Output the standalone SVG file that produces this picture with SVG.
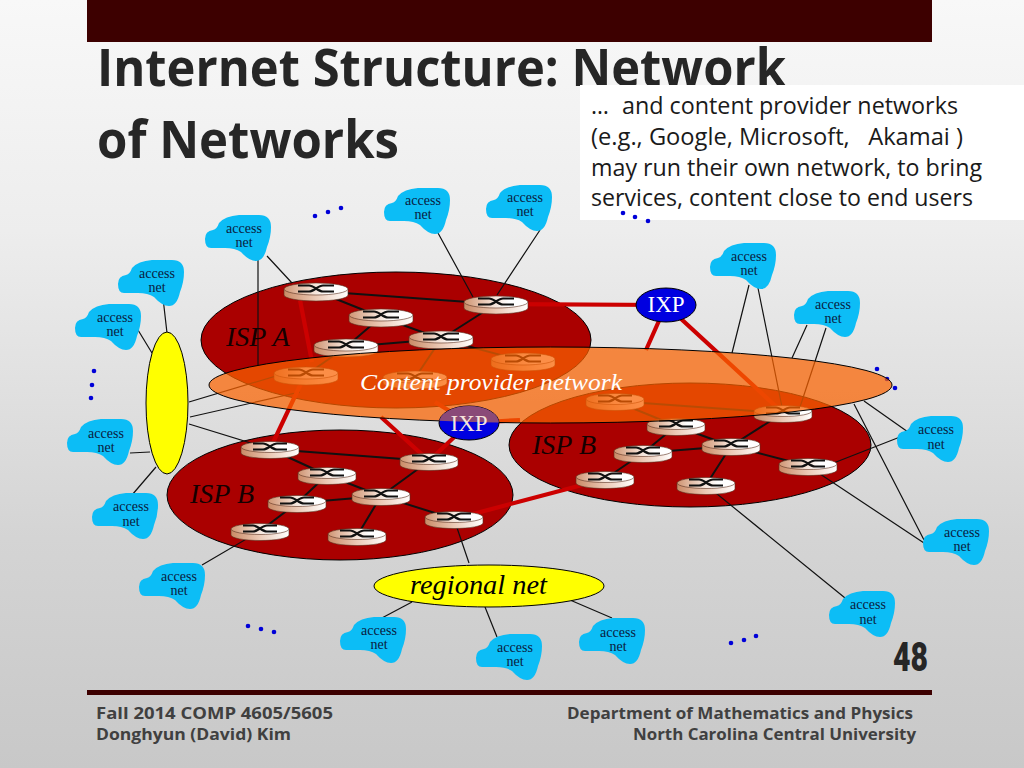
<svg xmlns="http://www.w3.org/2000/svg" xmlns:xlink="http://www.w3.org/1999/xlink" width="1024" height="768" viewBox="0 0 1024 768">
<style>
.t{font-family:"Open Sans","Liberation Sans",sans-serif}
.title{font-size:52px;font-weight:700;fill:#262626}
.body{font-size:23px;fill:#1a1a1a}
.foot{font-size:16.5px;font-weight:700;fill:#404040}
.s{font-family:"Liberation Serif","Times New Roman",serif}
.an{font-size:14px;fill:#0a2040;text-anchor:middle}
.isp{font-size:28px;font-style:italic;fill:#140000}
.ixp{font-size:23px;fill:#fff;text-anchor:middle}
.k{stroke:#111;stroke-width:1.2;fill:none}
.kb{stroke:#111;stroke-width:2;fill:none}
.r{stroke:#cc0000;stroke-width:4.2;fill:none}
.isps{fill:#aa0000;stroke:#000;stroke-width:1}
.dot{fill:#0000d8}
</style>
<defs>
<linearGradient id="bg" x1="0" y1="0" x2="0" y2="1">
<stop offset="0" stop-color="#f8f8f8"/><stop offset=".3" stop-color="#ededed"/><stop offset=".7" stop-color="#d4d4d4"/><stop offset="1" stop-color="#c8c8c8"/>
</linearGradient>
<linearGradient id="rs" x1="0" y1="0" x2="1" y2="0">
<stop offset="0" stop-color="#c98a66"/><stop offset=".5" stop-color="#eccab6"/><stop offset="1" stop-color="#fff"/>
</linearGradient>
<linearGradient id="rt" x1="0" y1="0" x2="1" y2="0">
<stop offset="0" stop-color="#cf9472"/><stop offset=".45" stop-color="#f4e0d4"/><stop offset=".7" stop-color="#fff"/>
</linearGradient>
<clipPath id="cp"><ellipse cx="550.5" cy="385" rx="341.5" ry="38"/></clipPath>
<symbol id="cloud" overflow="visible">
<path fill="#0cbdf6" d="M0,24 Q0,16 8,15 Q12,14 14,8 Q20,1 34,0 L54,0 Q66,0 66,12 Q66,22 62,32 Q59,46 51,46 Q44,46 36,37 Q30,33 20,33 L6,33 Q0,33 0,24Z"/>
</symbol>
<symbol id="router" overflow="visible">
<path fill="url(#rs)" stroke="#5a3020" stroke-width=".6" d="M-32,-3 V3 A32,6 0 0 0 32,3 V-3Z"/>
<ellipse cx="0" cy="-3" rx="32" ry="6" fill="url(#rt)" stroke="#5a3020" stroke-width=".6"/>
<path fill="none" stroke="#111" stroke-width="2.2" d="M-18,-6.5 H-7 C-2,-6.5 2,-0.5 7,-0.5 H18 M-18,-0.5 H-7 C-2,-0.5 2,-6.5 7,-6.5 H18"/>
</symbol>
<symbol id="routerb" overflow="visible">
<path fill="url(#rs)" stroke="#5a3020" stroke-width=".6" d="M-29,-3 V3 A29,5.5 0 0 0 29,3 V-3Z"/>
<ellipse cx="0" cy="-3" rx="29" ry="5.5" fill="url(#rt)" stroke="#5a3020" stroke-width=".6"/>
<path fill="none" stroke="#111" stroke-width="2.2" d="M-17,-6.5 H-7 C-2,-6.5 2,-0.5 7,-0.5 H17 M-17,-0.5 H-7 C-2,-0.5 2,-6.5 7,-6.5 H17"/>
</symbol>
</defs>

<rect id="background" width="1024" height="768" fill="url(#bg)"/>
<rect id="header-bar" x="87" width="845" height="42" fill="#3d0000"/>
<g id="title">
<text class="t title" x="97" y="86" textLength="689" lengthAdjust="spacingAndGlyphs">Internet Structure: Network</text>
<text class="t title" x="97" y="158" textLength="302" lengthAdjust="spacingAndGlyphs">of Networks</text>
</g>
<g id="callout">
<rect x="580" y="85" width="444" height="135" fill="#fff"/>
<text class="t body" x="591" y="114">…</text>
<text class="t body" x="622" y="114" textLength="336" lengthAdjust="spacingAndGlyphs">and content provider networks</text>
<text class="t body" x="591" y="145" textLength="372" lengthAdjust="spacingAndGlyphs" xml:space="preserve">(e.g., Google, Microsoft,   Akamai )</text>
<text class="t body" x="591" y="176" textLength="391" lengthAdjust="spacingAndGlyphs">may run their own network, to bring</text>
<text class="t body" x="591" y="206" textLength="382" lengthAdjust="spacingAndGlyphs">services, content close to end users</text>
</g>

<g id="isp-a"><ellipse class="isps" cx="396" cy="340" rx="195" ry="68"/></g>
<g id="isp-b-left"><ellipse class="isps" cx="340" cy="495" rx="173" ry="65"/></g>
<g id="isp-b-right"><ellipse class="isps" cx="690" cy="445" rx="181" ry="62"/></g>

<g id="connectors">
<g class="k">
<path d="M267,256L292,283M258,260V365M163,298L167,333M138,330L152,353"/>
<path d="M189,402L306,367M190,417L300,392M189,424L270,449M130,453L150,452M156,467L132,495"/>
<path d="M438,233L473,297M540,230L497,295"/>
<path d="M749,285L732,353M758,288L782,407M807,325L792,358M826,328L800,407"/>
<path d="M908,432L864,401M900,437L808,473M924,540L854,404M924,543L808,466M850,602L706,485"/>
<path d="M469,563L454,519M412,602L380,619M485,607L497,637M570,600L612,618M202,565L260,531"/>
</g>
<g class="kb">
<path d="M316,291L496,304M316,291L381,317M381,317L441,339M346,347L381,317M346,347L441,339M441,339L496,304M441,339L523,361M441,339L415,378M346,347L306,375"/>
<path d="M270,449L429,461M270,449L327,475M327,475L381,496M327,475L297,503M297,503L381,496M297,503L260,531M381,496L429,461M381,496L357,536M381,496L454,519"/>
<path d="M615,401L783,413M615,401L676,426M676,426L643,453M676,426L731,446M643,453L731,446M643,453L605,479M731,446L783,413M731,446L706,485M731,446L808,466"/>
</g>
<g class="r">
<path d="M496,304L666,305M666,305L646,350M666,305L783,413M300,300L312,362M305,375L270,449M381,417L429,461M469,423L429,461M469,423L435,402M469,423L520,420M454,519L605,479"/>
</g>
</g>

<g id="isp-labels">
<text class="s isp" x="226" y="346">ISP A</text>
<text class="s isp" x="190" y="503">ISP B</text>
<text class="s isp" x="532" y="454">ISP B</text>
</g>

<g id="routers">
<use xlink:href="#router" href="#router" x="316" y="292"/>
<use xlink:href="#router" href="#router" x="381" y="318"/>
<use xlink:href="#router" href="#router" x="346" y="348"/>
<use xlink:href="#router" href="#router" x="441" y="340"/>
<use xlink:href="#router" href="#router" x="496" y="305"/>
<use xlink:href="#router" href="#router" x="523" y="362"/>
<use xlink:href="#router" href="#router" x="306" y="376"/>
<use xlink:href="#router" href="#router" x="415" y="380"/>
<use xlink:href="#routerb" href="#routerb" x="270" y="450"/>
<use xlink:href="#routerb" href="#routerb" x="327" y="476"/>
<use xlink:href="#routerb" href="#routerb" x="429" y="462"/>
<use xlink:href="#routerb" href="#routerb" x="297" y="504"/>
<use xlink:href="#routerb" href="#routerb" x="381" y="497"/>
<use xlink:href="#routerb" href="#routerb" x="260" y="532"/>
<use xlink:href="#routerb" href="#routerb" x="357" y="537"/>
<use xlink:href="#routerb" href="#routerb" x="454" y="520"/>
<use xlink:href="#routerb" href="#routerb" x="615" y="402"/>
<use xlink:href="#routerb" href="#routerb" x="676" y="427"/>
<use xlink:href="#routerb" href="#routerb" x="643" y="454"/>
<use xlink:href="#routerb" href="#routerb" x="731" y="447"/>
<use xlink:href="#routerb" href="#routerb" x="605" y="480"/>
<use xlink:href="#routerb" href="#routerb" x="706" y="486"/>
<use xlink:href="#routerb" href="#routerb" x="808" y="467"/>
<use xlink:href="#routerb" href="#routerb" x="783" y="414"/>
</g>

<g id="regional-left"><ellipse cx="167" cy="403" rx="21" ry="71" fill="#ff0" stroke="#000"/></g>
<g id="regional-net">
<ellipse cx="489" cy="586" rx="115" ry="21" fill="#ff0" stroke="#000"/>
<text class="s" x="410" y="594" font-size="27" font-style="italic" fill="#000" textLength="137" lengthAdjust="spacingAndGlyphs">regional net</text>
</g>
<g id="ixp-top">
<ellipse cx="666" cy="305" rx="30" ry="17" fill="#0000e0" stroke="#000"/>
<text class="s ixp" x="666" y="312">IXP</text>
</g>

<g id="dots">
<circle class="dot" cx="315" cy="216" r="2.3"/><circle class="dot" cx="328" cy="212" r="2.3"/><circle class="dot" cx="341" cy="208" r="2.3"/>
<circle class="dot" cx="94" cy="371" r="2.3"/><circle class="dot" cx="92" cy="385" r="2.3"/><circle class="dot" cx="91" cy="398" r="2.3"/>
<circle class="dot" cx="623" cy="213" r="2.3"/><circle class="dot" cx="635" cy="217" r="2.3"/><circle class="dot" cx="648" cy="221" r="2.3"/>
<circle class="dot" cx="877" cy="369" r="2.3"/><circle class="dot" cx="887" cy="379" r="2.3"/><circle class="dot" cx="895" cy="388" r="2.3"/>
<circle class="dot" cx="248" cy="626" r="2.3"/><circle class="dot" cx="261" cy="629" r="2.3"/><circle class="dot" cx="274" cy="632" r="2.3"/>
<circle class="dot" cx="731" cy="643" r="2.3"/><circle class="dot" cx="744" cy="640" r="2.3"/><circle class="dot" cx="756" cy="636" r="2.3"/>
</g>

<g id="content-provider">
<ellipse cx="550.5" cy="385" rx="341.5" ry="38" fill="#fb6200" fill-opacity=".72"/>
<ellipse cx="550.5" cy="385" rx="341.5" ry="38" fill="none" stroke="#000"/>
<text class="s" x="360" y="390" font-size="24" font-style="italic" fill="#fff" textLength="262" lengthAdjust="spacingAndGlyphs">Content provider network</text>
</g>
<g id="ixp-bottom">
<ellipse cx="469" cy="423" rx="30" ry="17" fill="#0000e0" stroke="#000"/>
<ellipse cx="469" cy="423" rx="30" ry="17" fill="#8a4a78" clip-path="url(#cp)"/>
<text class="s ixp" x="469" y="431" style="fill:#f6e4dc">IXP</text>
</g>

<g id="access-1"><use xlink:href="#cloud" href="#cloud" x="205" y="215"/><text class="s an" x="244" y="232.500">access</text><text class="s an" x="244" y="246.500">net</text></g>
<g id="access-2"><use xlink:href="#cloud" href="#cloud" x="118" y="260"/><text class="s an" x="157" y="278">access</text><text class="s an" x="157" y="292">net</text></g>
<g id="access-3"><use xlink:href="#cloud" href="#cloud" x="75" y="304"/><text class="s an" x="115" y="322">access</text><text class="s an" x="115" y="336">net</text></g>
<g id="access-4"><use xlink:href="#cloud" href="#cloud" x="384" y="188"/><text class="s an" x="423" y="205">access</text><text class="s an" x="423" y="219">net</text></g>
<g id="access-5"><use xlink:href="#cloud" href="#cloud" x="486" y="185"/><text class="s an" x="525" y="202">access</text><text class="s an" x="525" y="216">net</text></g>
<g id="access-6"><use xlink:href="#cloud" href="#cloud" x="710" y="243"/><text class="s an" x="749" y="261">access</text><text class="s an" x="749" y="275">net</text></g>
<g id="access-7"><use xlink:href="#cloud" href="#cloud" x="794" y="291"/><text class="s an" x="833" y="309">access</text><text class="s an" x="833" y="323">net</text></g>
<g id="access-8"><use xlink:href="#cloud" href="#cloud" x="897" y="416"/><text class="s an" x="936" y="434">access</text><text class="s an" x="936" y="449">net</text></g>
<g id="access-9"><use xlink:href="#cloud" href="#cloud" x="923" y="519"/><text class="s an" x="962" y="537">access</text><text class="s an" x="962" y="551">net</text></g>
<g id="access-10"><use xlink:href="#cloud" href="#cloud" x="829" y="591"/><text class="s an" x="868" y="609">access</text><text class="s an" x="868" y="624">net</text></g>
<g id="access-11"><use xlink:href="#cloud" href="#cloud" x="579" y="618"/><text class="s an" x="618" y="637">access</text><text class="s an" x="618" y="651">net</text></g>
<g id="access-12"><use xlink:href="#cloud" href="#cloud" x="476" y="634"/><text class="s an" x="515" y="652">access</text><text class="s an" x="515" y="666">net</text></g>
<g id="access-13"><use xlink:href="#cloud" href="#cloud" x="340" y="617"/><text class="s an" x="379" y="635">access</text><text class="s an" x="379" y="649">net</text></g>
<g id="access-14"><use xlink:href="#cloud" href="#cloud" x="139" y="563"/><text class="s an" x="179" y="581">access</text><text class="s an" x="179" y="595">net</text></g>
<g id="access-15"><use xlink:href="#cloud" href="#cloud" x="92" y="493"/><text class="s an" x="131" y="511">access</text><text class="s an" x="131" y="526">net</text></g>
<g id="access-16"><use xlink:href="#cloud" href="#cloud" x="67" y="419"/><text class="s an" x="106" y="438">access</text><text class="s an" x="106" y="452">net</text></g>

<g id="footer">
<text x="893" y="671" font-family="Roboto,'Liberation Sans',sans-serif" font-weight="900" font-size="40" fill="#262626" textLength="35" lengthAdjust="spacingAndGlyphs">48</text>
<rect x="87" y="690" width="845" height="5" fill="#3d0000"/>
<text class="t foot" x="96" y="719" textLength="237" lengthAdjust="spacingAndGlyphs">Fall 2014 COMP 4605/5605</text>
<text class="t foot" x="96" y="740" textLength="195" lengthAdjust="spacingAndGlyphs">Donghyun (David) Kim</text>
<text class="t foot" x="567" y="719" textLength="346" lengthAdjust="spacingAndGlyphs">Department of Mathematics and Physics</text>
<text class="t foot" x="633" y="740" textLength="283" lengthAdjust="spacingAndGlyphs">North Carolina Central University</text>
</g>
</svg>
